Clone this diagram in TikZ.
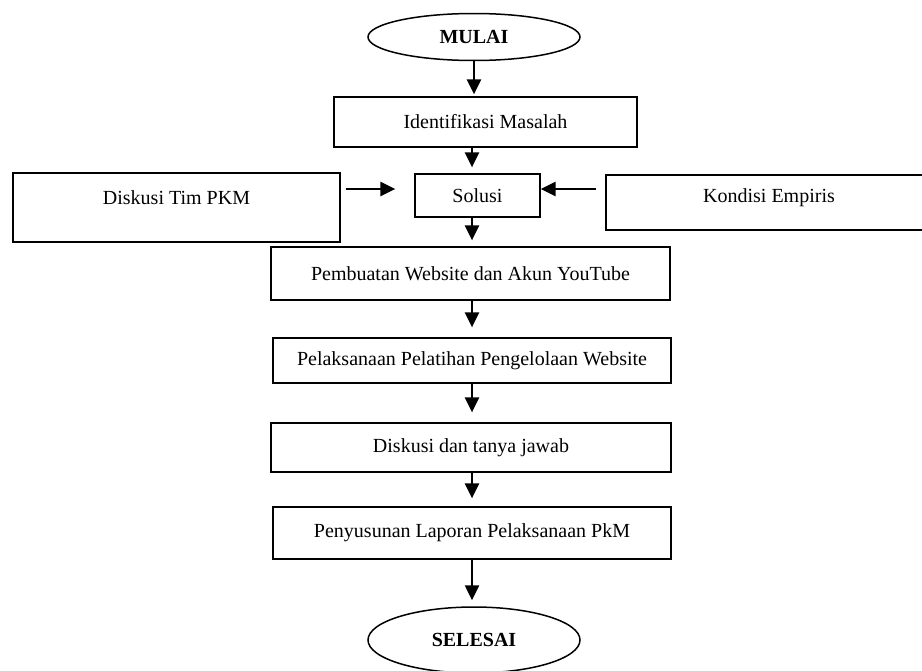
\documentclass[tikz,border=0pt]{standalone}
\usepackage{fontspec}
\setmainfont{Liberation Serif}
\usetikzlibrary{shapes.geometric,arrows.meta,calc}
\newcommand{\pxu}{0.6pt}

\begin{document}
\begin{tikzpicture}[x=\pxu, y=-\pxu,
    box/.style={draw, rectangle, line width=0.8pt, inner sep=0pt,
      font=\fontsize{12}{14}\selectfont},
    oval/.style={draw, ellipse, line width=0.9pt, inner sep=0pt,
      minimum width=212*\pxu, font=\fontsize{12}{14}\selectfont\bfseries},
    arr/.style={-{Triangle[length=9pt,width=8.5pt]}, line width=1.2pt}
  ]
  \useasboundingbox (0,0) rectangle (922,671);
  \coordinate (spine) at (472,0);

  % start / end
  \node[oval, minimum height=47*\pxu] (mulai) at (474,37) {MULAI};
  \node[oval, minimum height=66*\pxu] (selesai) at (474,640) {SELESAI};

  % steps
  \node[box, minimum width=303*\pxu, minimum height=50*\pxu] (identifikasi) at (485.5,122) {Identifikasi Masalah};
  \node[box, minimum width=327*\pxu, minimum height=69*\pxu,
    text height=8pt, text depth=11.2pt] (diskusi) at (176.5,207.5) {Diskusi Tim PKM};
  \node[box, minimum width=125*\pxu, minimum height=43*\pxu] (solusi) at (477.5,195.5) {Solusi};
  \node[box, minimum width=326*\pxu, minimum height=55*\pxu,
    text height=8pt, text depth=7.6pt] (kondisi) at (769,202.5) {Kondisi Empiris};
  \node[box, minimum width=399*\pxu, minimum height=53*\pxu] (pembuatan) at (470.5,273.5) {Pembuatan Website dan Akun YouTube};
  \node[box, minimum width=398*\pxu, minimum height=45*\pxu] (pelaksanaan) at (472,360.5) {Pelaksanaan Pelatihan Pengelolaan Website};
  \node[box, minimum width=400*\pxu, minimum height=49*\pxu] (tanya) at (471,447.5) {Diskusi dan tanya jawab};
  \node[box, minimum width=398*\pxu, minimum height=52*\pxu] (penyusunan) at (472,533) {Penyusunan Laporan Pelaksanaan PkM};

  % arrows
  \draw[arr, shorten >=2*\pxu] (mulai.south) -- (mulai.south |- identifikasi.north);
  \draw[arr, shorten >=6*\pxu] (identifikasi.south -| spine) -- (spine |- solusi.north);
  \draw[arr] ($(diskusi.east)+(5,-18.5)$) -- ($(solusi.west)+(-19,-6.5)$);
  \draw[arr] ($(kondisi.west)+(-9,-13.5)$) -- ($(solusi.east)+(0,-6.5)$);
  \draw[arr, shorten >=6*\pxu] (solusi.south -| spine) -- (spine |- pembuatan.north);
  \draw[arr, shorten >=10*\pxu] (pembuatan.south -| spine) -- (spine |- pelaksanaan.north);
  \draw[arr, shorten >=10*\pxu] (pelaksanaan.south -| spine) -- (spine |- tanya.north);
  \draw[arr, shorten >=8*\pxu] (tanya.south -| spine) -- (spine |- penyusunan.north);
  \draw[arr, shorten >=6*\pxu] (penyusunan.south -| spine) -- (spine |- selesai.north);
\end{tikzpicture}
\end{document}
